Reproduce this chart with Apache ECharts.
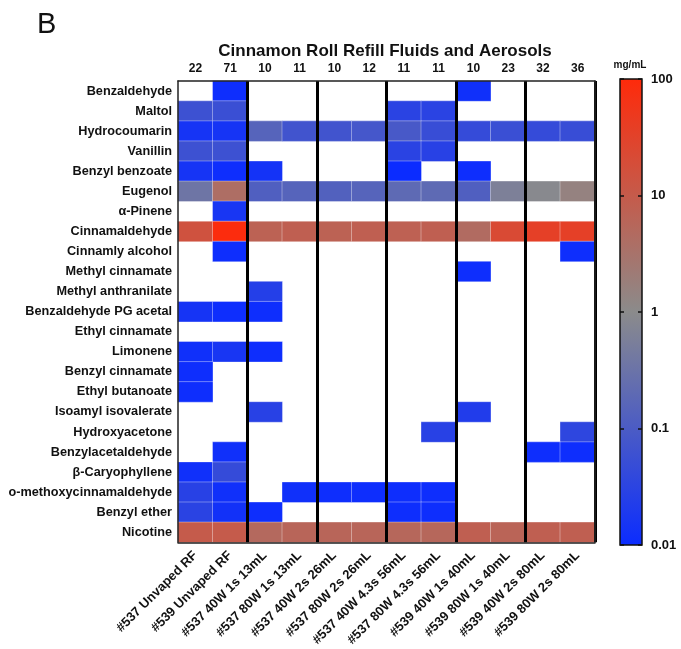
<!DOCTYPE html>
<html>
<head>
<meta charset="utf-8">
<script src="https://cdn.jsdelivr.net/npm/echarts@6/dist/echarts.min.js"></script>
<style>html,body{margin:0;padding:0;background:#fff;}#c{width:681px;height:649px;}</style>
</head>
<body>
<div id="c"></div>
<script>
// Columns (samples)
const sampleLabels = ['#537 Unvaped RF','#539 Unvaped RF','#537 40W 1s 13mL','#537 80W 1s 13mL','#537 40W 2s 26mL','#537 80W 2s 26mL','#537 40W 4.3s 56mL','#537 80W 4.3s 56mL','#539 40W 1s 40mL','#539 80W 1s 40mL','#539 40W 2s 80mL','#539 80W 2s 80mL'];
const topCounts = ['22','71','10','11','10','12','11','11','10','23','32','36'];
const compoundLabels = ['Benzaldehyde','Maltol','Hydrocoumarin','Vanillin','Benzyl benzoate','Eugenol','α-Pinene','Cinnamaldehyde','Cinnamly alcohol','Methyl cinnamate','Methyl anthranilate','Benzaldehyde PG acetal','Ethyl cinnamate','Limonene','Benzyl cinnamate','Ethyl butanoate','Isoamyl isovalerate','Hydroxyacetone','Benzylacetaldehyde','β-Caryophyllene','o-methoxycinnamaldehyde','Benzyl ether','Nicotine'];
const colorbarTicks = [0.01, 0.1, 1, 10, 100];

// Concentrations in mg/mL (null = not detected), one array per compound, 12 samples each
const benzaldehyde      = [null, 0.011, null, null, null, null, null, null, 0.012, null, null, null];
const maltol            = [0.06, 0.055, null, null, null, null, 0.03, 0.03, null, null, null, null];
const hydrocoumarin     = [0.015, 0.015, 0.15, 0.07, 0.07, 0.08, 0.09, 0.05, 0.045, 0.055, 0.045, 0.05];
const vanillin          = [0.06, 0.06, null, null, null, null, 0.03, 0.028, null, null, null, null];
const benzylBenzoate    = [0.015, 0.011, 0.014, null, null, null, 0.01, null, 0.011, null, null, null];
const eugenol           = [0.35, 4, 0.12, 0.15, 0.13, 0.15, 0.2, 0.2, 0.12, 0.6, 0.9, 1.5];
const alphaPinene       = [null, 0.016, null, null, null, null, null, null, null, null, null, null];
const cinnamaldehyde    = [15, 90, 7, 8, 7, 8, 7.5, 8, 4.5, 22, 35, 35];
const cinnamylAlcohol   = [null, 0.011, null, null, null, null, null, null, null, null, null, 0.011];
const methylCinnamate   = [null, null, null, null, null, null, null, null, 0.011, null, null, null];
const methylAnthranilate= [null, null, 0.025, null, null, null, null, null, null, null, null, null];
const benzPGAcetal      = [0.015, 0.011, 0.011, null, null, null, null, null, null, null, null, null];
const ethylCinnamate    = [null, null, null, null, null, null, null, null, null, null, null, null];
const limonene          = [0.012, 0.016, 0.011, null, null, null, null, null, null, null, null, null];
const benzylCinnamate   = [0.011, null, null, null, null, null, null, null, null, null, null, null];
const ethylButanoate    = [0.011, null, null, null, null, null, null, null, null, null, null, null];
const isoamylIsovalerate= [null, null, 0.028, null, null, null, null, null, 0.022, null, null, null];
const hydroxyacetone    = [null, null, null, null, null, null, null, 0.028, null, null, null, 0.035];
const benzylacetaldehyde= [null, 0.012, null, null, null, null, null, null, null, null, 0.011, 0.011];
const caryophyllene     = [0.012, 0.045, null, null, null, null, null, null, null, null, null, null];
const oMethoxyCinnam    = [0.028, 0.012, null, 0.012, 0.011, 0.011, 0.011, 0.011, null, null, null, null];
const benzylEther       = [0.03, 0.013, 0.011, null, null, null, 0.011, 0.011, null, null, null, null];
const nicotine          = [10, 10, 5, 6, 6, 6, 5.5, 5.5, 8, 6.5, 8, 8];

const rows = [benzaldehyde, maltol, hydrocoumarin, vanillin, benzylBenzoate, eugenol, alphaPinene, cinnamaldehyde, cinnamylAlcohol, methylCinnamate, methylAnthranilate, benzPGAcetal, ethylCinnamate, limonene, benzylCinnamate, ethylButanoate, isoamylIsovalerate, hydroxyacetone, benzylacetaldehyde, caryophyllene, oMethoxyCinnam, benzylEther, nicotine];

const heatData = [];
rows.forEach((r, yi) => r.forEach((v, xi) => { if (v != null) heatData.push([xi, yi, Math.log10(v), v]); }));

const BLUE = '#0b2cff', GRAY = '#8b8b8b', RED = '#ff2a0a';
const FONT = 'Liberation Sans';

const chart = echarts.init(document.getElementById('c'), null, {renderer: 'canvas'});
chart.setOption({
  backgroundColor: '#ffffff',
  animation: false,
  textStyle: {fontFamily: FONT},
  title: [
    {text: 'B', left: 32, top: 5, textStyle: {fontSize: 29, fontWeight: 'normal', color: '#111', fontFamily: FONT}},
    {text: 'Cinnamon Roll Refill Fluids and Aerosols', left: 380, top: 38, textAlign: 'center',
     textStyle: {fontSize: 17, fontWeight: 'bold', color: '#111', fontFamily: FONT}},
    {text: 'mg/mL', left: 625, top: 55, textAlign: 'center',
     textStyle: {fontSize: 10, fontWeight: 'bold', color: '#111', fontFamily: FONT}}
  ],
  grid: [
    {left: 178, right: 86, top: 81, bottom: 105, containLabel: false},
    {left: 620, width: 22, top: 79, bottom: 104, show: true, borderColor: '#111', borderWidth: 1.5,
     backgroundColor: {type: 'linear', x: 0, y: 0, x2: 0, y2: 1,
       colorStops: [{offset: 0, color: RED}, {offset: 0.5, color: GRAY}, {offset: 1, color: BLUE}]}}
  ],
  xAxis: [
    {type: 'category', gridIndex: 0, data: sampleLabels, position: 'bottom', z: 5,
     axisLine: {show: true, lineStyle: {color: '#222', width: 1.5}},
     axisTick: {show: false},
     axisLabel: {rotate: 45, fontSize: 13, fontWeight: 'bold', color: '#111', margin: 11, fontFamily: FONT},
     splitLine: {show: true, interval: (i) => i % 2 === 0 && i > 0, lineStyle: {color: '#000', width: 3}}},
    {type: 'category', gridIndex: 0, data: topCounts, position: 'top', z: 5,
     axisLine: {show: true, lineStyle: {color: '#222', width: 1.5}},
     axisTick: {show: false},
     axisLabel: {fontSize: 12, fontWeight: 'bold', color: '#111', margin: 6, fontFamily: FONT}},
    {type: 'category', gridIndex: 1, data: [''], show: false}
  ],
  yAxis: [
    {type: 'category', gridIndex: 0, data: compoundLabels, inverse: true, z: 5,
     axisLine: {show: true, lineStyle: {color: '#222', width: 1.5}},
     axisTick: {show: false},
     axisLabel: {fontSize: 12.7, fontWeight: 'bold', color: '#111', margin: 6, fontFamily: FONT}},
    {type: 'category', gridIndex: 0, data: compoundLabels, inverse: true, position: 'right', z: 5,
     axisLine: {show: true, lineStyle: {color: '#222', width: 1.5}},
     axisTick: {show: false}, axisLabel: {show: false}},
    {type: 'log', gridIndex: 1, position: 'right', min: colorbarTicks[0], max: colorbarTicks[colorbarTicks.length - 1], logBase: 10,
     axisLine: {show: false},
     axisTick: {show: true, inside: true, length: 4, lineStyle: {color: '#111', width: 1.5}},
     splitLine: {show: false},
     axisLabel: {fontSize: 13, fontWeight: 'bold', color: '#111', margin: 9, fontFamily: FONT,
       formatter: (v) => String(colorbarTicks.find(t => Math.abs(Math.log10(t) - Math.log10(v)) < 1e-6) ?? v)}},
    {type: 'log', gridIndex: 1, position: 'left', min: colorbarTicks[0], max: colorbarTicks[colorbarTicks.length - 1], logBase: 10,
     axisLine: {show: false},
     axisTick: {show: true, inside: true, length: 4, lineStyle: {color: '#111', width: 1.5}},
     splitLine: {show: false}, axisLabel: {show: false}}
  ],
  visualMap: {
    show: false, type: 'continuous', dimension: 2, seriesIndex: 0,
    min: Math.log10(colorbarTicks[0]), max: Math.log10(colorbarTicks[colorbarTicks.length - 1]),
    inRange: {color: [BLUE, GRAY, RED]}
  },
  series: [{
    type: 'heatmap', xAxisIndex: 0, yAxisIndex: 0, data: heatData,
    itemStyle: {borderColor: 'rgba(255,255,255,0.35)', borderWidth: 1},
    emphasis: {disabled: true}
  }]
});
</script>
</body>
</html>
